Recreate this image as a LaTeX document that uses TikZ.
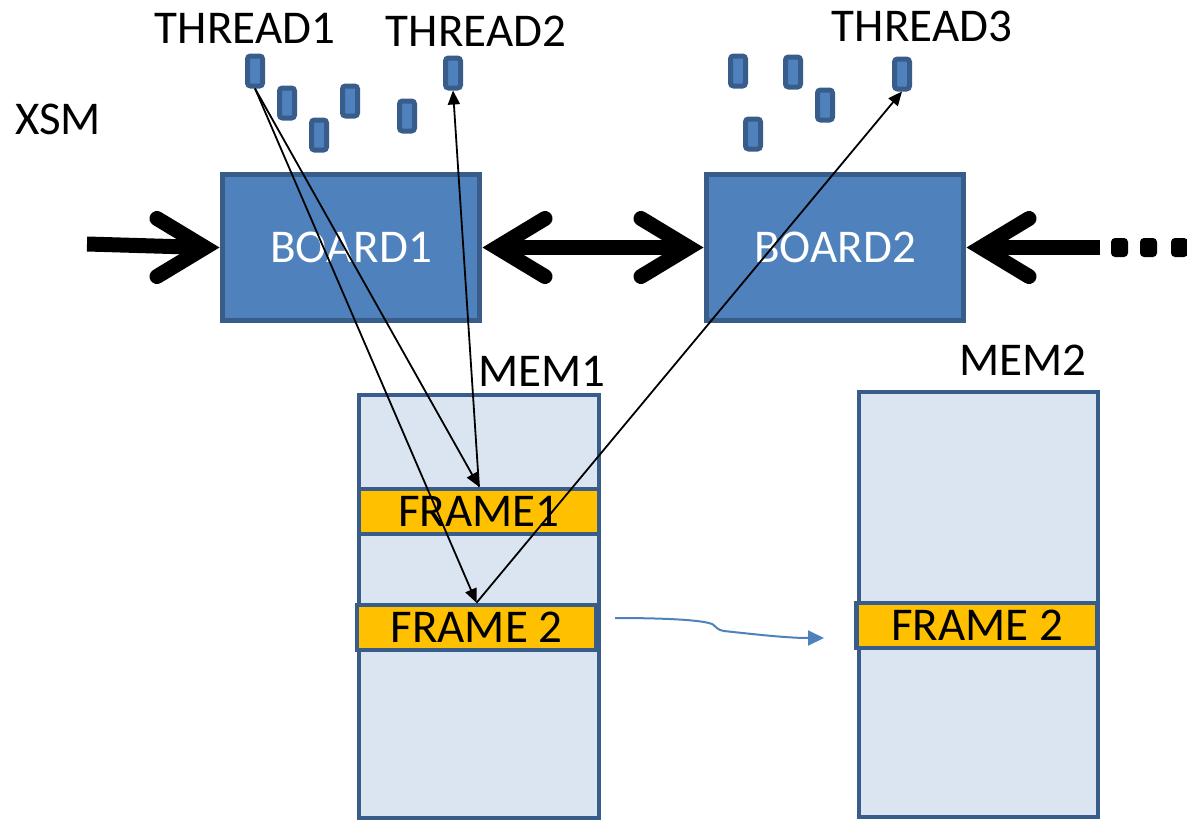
\documentclass[tikz,border=0pt]{standalone}
\usepackage{fontspec}
\setmainfont{Carlito}
\usetikzlibrary{arrows.meta,calc}
\definecolor{boxblue}{HTML}{4F81BD}
\definecolor{edgeblue}{HTML}{385D8A}
\definecolor{memfill}{HTML}{DBE5F1}
\definecolor{frameor}{HTML}{FFC000}

\begin{document}
\begin{tikzpicture}[x=1pt,y=-1pt,
  bigfont/.style={font=\fontsize{47pt}{51pt}\selectfont},
  lbl/.style={bigfont, inner sep=0pt, text=black},
  threadbox/.style={draw=edgeblue, fill=boxblue, line width=5pt, rounded corners=3pt,
    minimum width=15pt, minimum height=30pt, inner sep=0pt},
  board/.style={draw=edgeblue, fill=boxblue, line width=5pt, minimum width=257pt,
    minimum height=146pt, inner sep=0pt, text=white, bigfont},
  memory/.style={draw=edgeblue, fill=memfill, line width=4.5pt, inner sep=0pt},
  framebox/.style={draw=edgeblue, fill=frameor, line width=4.5pt, minimum height=45pt,
    inner sep=0pt, text=black, bigfont},
  dotbox/.style={fill=black, rounded corners=4pt, minimum width=17pt, minimum height=19pt, inner sep=0pt},
  heavy/.style={line width=15pt, black},
  barb/.style={heavy, line cap=round, line join=miter},
  link/.style={line width=1.8pt, black, -{Triangle[length=14pt,width=12pt]}},
  flow/.style={line width=2pt, boxblue, -{Triangle[length=16pt,width=15pt]}}
]
\useasboundingbox (0,0) rectangle (1187,822);

% labels
\node[lbl] (lxsm) at (58,119) {XSM};
\node[lbl] (lt1) at (245,28) {THREAD1};
\node[lbl] (lt2) at (476,31) {THREAD2};
\node[lbl] (lt3) at (922,26) {THREAD3};
\node[lbl] (lm1) at (542,371) {MEM1};
\node[lbl] (lm2) at (1023,360) {MEM2};

% threads above board 1
\node[threadbox] (t1) at (255,71) {};
\node[threadbox] (a1) at (287,103) {};
\node[threadbox] (a2) at (319,135) {};
\node[threadbox] (a3) at (350,101) {};
\node[threadbox] (a4) at (407,116) {};
\node[threadbox] (t2) at (453,73) {};
% threads above board 2
\node[threadbox] (b1t) at (738,71) {};
\node[threadbox] (b2t) at (793,72) {};
\node[threadbox] (b3t) at (825,105) {};
\node[threadbox] (b4t) at (753,134) {};
\node[threadbox] (t3) at (902,74) {};

% boards
\node[board] (b1) at (351,247.5) {BOARD1};
\node[board] (b2) at (835,247.5) {BOARD2};

% memories and frames
\node[memory, minimum width=240pt, minimum height=423pt] (m1) at (479,606.5) {};
\node[memory, minimum width=239pt, minimum height=425pt] (m2) at (978.5,604.5) {};
\node[framebox, minimum width=240pt] (f1) at (479,511.5) {FRAME1};
\node[framebox, minimum width=239pt] (f2) at (476.5,627.5) {FRAME 2};
\node[framebox, minimum width=241pt] (f3) at (977,625.5) {FRAME 2};

% heavy board links
\coordinate (xin) at (87,244);
\coordinate (xdots) at (1100,247.5);
\draw[heavy] (xin) -- ($(b1.west)+(-15,0)$);
\draw[barb] ($(b1.west)+(-63,-29)$) -- ($(b1.west)+(-15,0)$) -- ($(b1.west)+(-63,29)$);
\draw[heavy] ($(b1.east)+(15,0)$) -- ($(b2.west)+(-15,0)$);
\draw[barb] ($(b1.east)+(63,-29)$) -- ($(b1.east)+(15,0)$) -- ($(b1.east)+(63,29)$);
\draw[barb] ($(b2.west)+(-63,-29)$) -- ($(b2.west)+(-15,0)$) -- ($(b2.west)+(-63,29)$);
\draw[heavy] (xdots) -- ($(b2.east)+(15,0)$);
\draw[barb] ($(b2.east)+(63,-29)$) -- ($(b2.east)+(15,0)$) -- ($(b2.east)+(63,29)$);
\node[dotbox] (d1) at (1119.5,247.5) {};
\node[dotbox] (d2) at (1148.5,247.5) {};
\node[dotbox] (d3) at (1179.5,247.5) {};

% thread to frame references
\draw[link] (t1.south) -- (f1.north);
\draw[link] (t1.south) -- (f2.north);
\draw[link] (f1.north) -- (t2.south);
\draw[link] (f2.north) -- (t3.south);

% frame migration
\coordinate (ms) at (615,618);
\coordinate (me) at (824,638);
\draw[flow] (ms) .. controls (665,618) and (705,620) .. (713,624.5)
  .. controls (717,628) and (718,630) .. (724,631)
  .. controls (765,635.5) and (790,638) .. (me);
\end{tikzpicture}
\end{document}
